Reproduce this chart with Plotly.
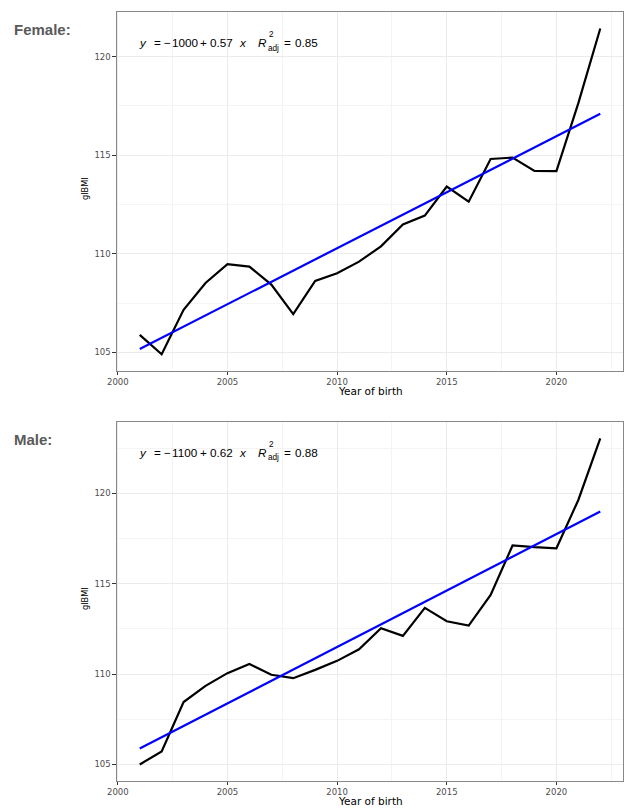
import plotly.graph_objects as go

W, H = 629, 808

years = list(range(2001, 2023))
female_gibmi = [105.89, 104.90, 107.16, 108.52, 109.47, 109.35, 108.44, 106.94,
                108.62, 109.01, 109.60, 110.38, 111.49, 111.94, 113.41, 112.64,
                114.81, 114.88, 114.20, 114.19, 117.64, 121.43]
male_gibmi = [105.00, 105.72, 108.45, 109.35, 110.05, 110.56, 109.96, 109.77,
              110.23, 110.73, 111.37, 112.53, 112.11, 113.66, 112.92, 112.68,
              114.38, 117.11, 117.02, 116.96, 119.63, 123.04]
fit_years = [2001, 2022]
female_fit = [105.17, 117.10]
male_fit = [105.88, 118.99]

panel_labels = ["Female:", "Male:"]
eq_intercept = ["1000", "1100"]
eq_slope = ["0.57", "0.62"]
eq_r2 = ["0.85", "0.88"]
x_ticks = [2000, 2005, 2010, 2015, 2020]
y_ticks = [105, 110, 115, 120]
x_title = "Year of birth"
y_title = "gIBMI"

FONT = "DejaVu Sans"
EQFONT = "Liberation Sans"

def px(x):
    return x / W

def py(y):
    return 1 - y / H

fig = go.Figure()

PL, PR = 116.7, 623.3
panels = [
    dict(data=female_gibmi, fit=female_fit, yr=[104.07, 122.28], top=11.7, bot=370.7),
    dict(data=male_gibmi, fit=male_fit, yr=[104.10, 123.96], top=421.7, bot=780.7),
]

annotations = []

def txt(text, x, y, size, family=EQFONT, color="black", xanchor="left", angle=0):
    annotations.append(dict(text=text, x=px(x), y=py(y), xref="paper", yref="paper",
                            xanchor=xanchor, yanchor="middle", showarrow=False,
                            borderpad=0, borderwidth=0, textangle=angle,
                            font=dict(family=family, size=size, color=color)))

for i, p in enumerate(panels):
    xa = "x" if i == 0 else "x2"
    ya = "y" if i == 0 else "y2"
    fig.add_trace(go.Scatter(x=years, y=p["data"], mode="lines",
                             line=dict(color="black", width=2.2),
                             xaxis=xa, yaxis=ya, showlegend=False))
    fig.add_trace(go.Scatter(x=fit_years, y=p["fit"], mode="lines",
                             line=dict(color="#0000FF", width=2.2),
                             xaxis=xa, yaxis=ya, showlegend=False))
    axkey = "" if i == 0 else "2"
    common = dict(showline=True, linecolor="#888888", linewidth=1, mirror=True,
                  ticks="outside", ticklen=3.3, tickcolor="#333333", tickwidth=1,
                  showgrid=True, gridcolor="#EBEBEB", gridwidth=1,
                  tickfont=dict(family=FONT, size=8.5, color="#4D4D4D"),
                  zeroline=False, automargin=False)
    fig.update_layout(**{
        "xaxis" + axkey: dict(common, domain=[px(PL), px(PR)], range=[1999.95, 2023.05],
                              tickvals=x_ticks, anchor=ya,
                              minor=dict(dtick=2.5, tick0=2002.5, showgrid=True,
                                         gridcolor="#F4F4F4", gridwidth=0.6, ticks="")),
        "yaxis" + axkey: dict(common, domain=[py(p["bot"]), py(p["top"])], range=p["yr"],
                              tickvals=y_ticks, anchor=xa,
                              minor=dict(dtick=2.5, tick0=102.5, showgrid=True,
                                         gridcolor="#F4F4F4", gridwidth=0.6, ticks="")),
    })
    off = 0 if i == 0 else 410
    txt(x_title, (PL + PR) / 2, 391.3 + off, 10.5, family=FONT, xanchor="center")
    txt(y_title, 85, 189 + off, 8.2, family=FONT, xanchor="center", angle=-90)
    txt("<b>" + panel_labels[i] + "</b>", 13.5, 29 + off, 15, family="Liberation Sans",
        color="#5A5A5A")
    yc = 42.8 + off
    s = 11.7
    txt("<i>y</i>", 138.5, yc, s)
    txt("=", 153.8, yc, s)
    txt("\u2212", 163.8, yc, s)
    txt(eq_intercept[i], 171.5, yc, s)
    txt("+", 200.2, yc, s)
    txt(eq_slope[i], 209.5, yc, s)
    txt("<i>x</i>", 238.5, yc, s)
    txt("<i>R</i>", 257.5, yc, s)
    txt("2", 268.5, 34.5 + off, 8.2)
    txt("adj", 268.0, 48.0 + off, 8.2)
    txt("=", 283.5, yc, s)
    txt(eq_r2[i], 295.0, yc, s)

fig.update_layout(width=W, height=H, margin=dict(l=0, r=0, t=0, b=0),
                  paper_bgcolor="white", plot_bgcolor="white",
                  annotations=annotations, showlegend=False)

fig.write_html("out.html", config={"displayModeBar": False},
               post_script="document.body.style.margin='0';document.body.style.overflow='hidden';")
